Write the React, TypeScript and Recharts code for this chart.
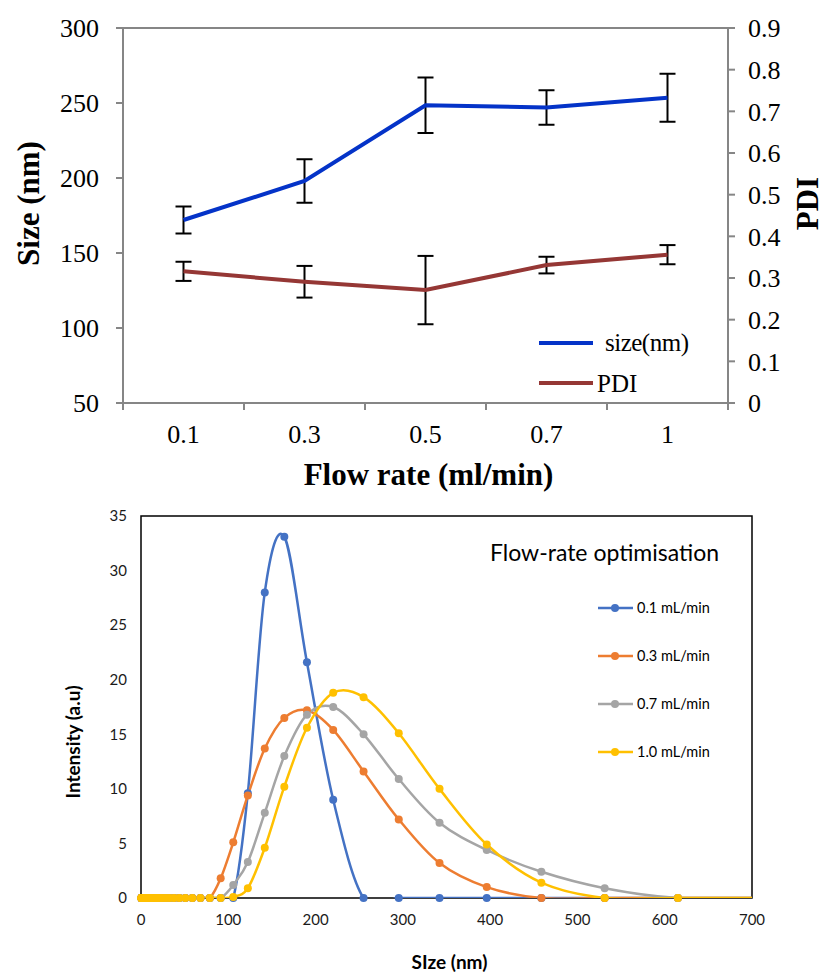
import React from 'react';
import { LineChart, Line, XAxis, YAxis, ErrorBar, Legend, ReferenceLine, ReferenceArea } from 'recharts';

// ---- top chart: size / PDI vs flow rate ----
const flowRates = ['0.1', '0.3', '0.5', '0.7', '1'];
const sizeNm = [172, 198, 248.5, 247, 253.5];
const sizeErr = [9, 14.5, 18.5, 11.5, 16];
const pdiValues = [0.316, 0.291, 0.271, 0.331, 0.356];
const pdiErr = [0.023, 0.038, 0.082, 0.02, 0.023];
const sizeTicks = [50, 100, 150, 200, 250, 300];
const pdiTicks = [0, 0.1, 0.2, 0.3, 0.4, 0.5, 0.6, 0.7, 0.8, 0.9];

// ---- bottom chart: DLS intensity distributions ----
const binSizes = [
  0.4, 0.4632, 0.5365, 0.6213, 0.7195, 0.8332, 0.9649, 1.117, 1.294, 1.499,
  1.736, 2.01, 2.328, 2.696, 3.122, 3.615, 4.187, 4.849, 5.615, 6.503,
  7.531, 8.721, 10.1, 11.7, 13.54, 15.69, 18.17, 21.04, 24.36, 28.21,
  32.67, 37.84, 43.82, 50.75, 58.77, 68.06, 78.82,
  91.28, 105.7, 122.4, 141.8, 164.2, 190.1, 220.2, 255, 295.3, 342, 396.1, 458.7, 531.2, 615.1, 712.4,
];
const int01 = [
  0, 0, 0, 0, 0, 0, 0, 0, 0, 0,
  0, 0, 0, 0, 0, 0, 0, 0, 0, 0,
  0, 0, 0, 0, 0, 0, 0, 0, 0, 0,
  0, 0, 0, 0, 0, 0, 0,
  0, 0, 9.6, 28.0, 33.1, 21.6, 9.0, 0, 0, 0, 0, 0, 0, 0, 0,
];
const int03 = [
  0, 0, 0, 0, 0, 0, 0, 0, 0, 0,
  0, 0, 0, 0, 0, 0, 0, 0, 0, 0,
  0, 0, 0, 0, 0, 0, 0, 0, 0, 0,
  0, 0, 0, 0, 0, 0, 0,
  1.8, 5.1, 9.4, 13.7, 16.5, 17.2, 15.4, 11.6, 7.2, 3.2, 1.0, 0, 0, 0, 0,
];
const int07 = [
  0, 0, 0, 0, 0, 0, 0, 0, 0, 0,
  0, 0, 0, 0, 0, 0, 0, 0, 0, 0,
  0, 0, 0, 0, 0, 0, 0, 0, 0, 0,
  0, 0, 0, 0, 0, 0, 0,
  0, 1.2, 3.3, 7.8, 13.0, 16.8, 17.5, 15.0, 10.9, 6.9, 4.4, 2.4, 0.9, 0, 0,
];
const int10 = [
  0, 0, 0, 0, 0, 0, 0, 0, 0, 0,
  0, 0, 0, 0, 0, 0, 0, 0, 0, 0,
  0, 0, 0, 0, 0, 0, 0, 0, 0, 0,
  0, 0, 0, 0, 0, 0, 0,
  0, 0.1, 0.9, 4.6, 10.2, 15.6, 18.8, 18.4, 15.1, 10.0, 4.9, 1.4, 0, 0, 0,
];
const sizeTicksX = [0, 100, 200, 300, 400, 500, 600, 700];
const intensityTicks = [0, 5, 10, 15, 20, 25, 30, 35];

const SERIES = [
  { key: 's01', name: '0.1 mL/min', color: '#4472C4', values: int01 },
  { key: 's03', name: '0.3 mL/min', color: '#ED7D31', values: int03 },
  { key: 's07', name: '0.7 mL/min', color: '#A5A5A5', values: int07 },
  { key: 's10', name: '1.0 mL/min', color: '#FFC000', values: int10 },
];

const SERIF = '"Liberation Serif", "Times New Roman", serif';
const SANS = 'Lato, "Open Sans", sans-serif';
const AXIS_GREY = '#868686';
const SIZE_BLUE = '#0433C8';
const PDI_RED = '#953735';

const topData = flowRates.map((f, i) => ({
  flow: f,
  size: sizeNm[i],
  sizeErr: sizeErr[i],
  pdi: pdiValues[i],
  pdiErr: pdiErr[i],
}));

const distData = binSizes.map((s, i) => {
  const row: Record<string, number> = { size: s };
  SERIES.forEach((ser) => {
    row[ser.key] = ser.values[i];
  });
  return row;
});

// Excel-like smoothed line (Catmull-Rom / cardinal with zero tension)
class SmoothCurve {
  _context: any;
  _line = NaN;
  _point = 0;
  _x0 = NaN; _x1 = NaN; _x2 = NaN;
  _y0 = NaN; _y1 = NaN; _y2 = NaN;
  constructor(context: any) {
    this._context = context;
  }
  areaStart() { this._line = 0; }
  areaEnd() { this._line = NaN; }
  lineStart() {
    this._x0 = this._x1 = this._x2 = this._y0 = this._y1 = this._y2 = NaN;
    this._point = 0;
  }
  lineEnd() {
    switch (this._point) {
      case 2: this._context.lineTo(this._x2, this._y2); break;
      case 3: this.seg(this._x1, this._y1); break;
    }
    if (this._line || (this._line !== 0 && this._point === 1)) this._context.closePath();
    this._line = 1 - this._line;
  }
  point(x: number, y: number) {
    x = +x; y = +y;
    switch (this._point) {
      case 0:
        this._point = 1;
        if (this._line) this._context.lineTo(x, y);
        else this._context.moveTo(x, y);
        break;
      case 1:
        this._point = 2;
        this._x1 = x; this._y1 = y;
        break;
      case 2:
        this._point = 3;
        this.seg(x, y);
        break;
      default:
        this.seg(x, y);
        break;
    }
    this._x0 = this._x1; this._x1 = this._x2; this._x2 = x;
    this._y0 = this._y1; this._y1 = this._y2; this._y2 = y;
  }
  seg(x: number, y: number) {
    const k = 1 / 6;
    this._context.bezierCurveTo(
      this._x1 + k * (this._x2 - this._x0),
      this._y1 + k * (this._y2 - this._y0),
      this._x2 + k * (this._x1 - x),
      this._y2 + k * (this._y1 - y),
      this._x2,
      this._y2,
    );
  }
}
const smoothCurve = (context: any) => new SmoothCurve(context);

// top chart layout
const TOP_W = 826;
const TOP_H = 500;
const TOP_LEFT = 123;
const TOP_RIGHT = 98;
const TOP_BOTTOM = 97;
const BAND = (TOP_W - TOP_LEFT - TOP_RIGHT) / flowRates.length;

function FlowTick(props: any) {
  const { x, payload, index } = props;
  const axisY = TOP_H - TOP_BOTTOM;
  return (
    <g>
      <line x1={x - BAND / 2} x2={x - BAND / 2} y1={axisY} y2={axisY + 7} stroke={AXIS_GREY} strokeWidth={2} />
      {index === flowRates.length - 1 && (
        <line x1={x + BAND / 2} x2={x + BAND / 2} y1={axisY} y2={axisY + 7} stroke={AXIS_GREY} strokeWidth={2} />
      )}
      <text x={x} y={axisY + 40} textAnchor="middle" fontSize={26} fontFamily={SERIF} fill="#000">
        {payload.value}
      </text>
    </g>
  );
}

function TopLegend() {
  return (
    <svg width={200} height={80} style={{ display: 'block' }}>
      <line x1={3} x2={57} y1={21} y2={21} stroke={SIZE_BLUE} strokeWidth={4} />
      <text x={69} y={29} fontSize={25} fontFamily={SERIF} fill="#000" letterSpacing={-0.5}>size(nm)</text>
      <line x1={3} x2={57} y1={61} y2={61} stroke={PDI_RED} strokeWidth={4} />
      <text x={61} y={70} fontSize={25} fontFamily={SERIF} fill="#000">PDI</text>
    </svg>
  );
}

function SizePdiChart() {
  const tickStyle = { fontSize: 26, fontFamily: SERIF, fill: '#000' };
  const titleStyle = { fontSize: 31, fontWeight: 'bold', fontFamily: SERIF, fill: '#000', textAnchor: 'middle' };
  return (
    <LineChart width={TOP_W} height={TOP_H} data={topData} margin={{ top: 28, right: 0, bottom: 0, left: 0 }}>
      <XAxis
        dataKey="flow"
        scale="band"
        height={TOP_BOTTOM}
        axisLine={{ stroke: AXIS_GREY, strokeWidth: 2 }}
        tickLine={false}
        tick={<FlowTick />}
        interval={0}
        label={{ value: 'Flow rate (ml/min)', position: 'insideBottom', offset: 15, dx: 3, style: titleStyle }}
      />
      <YAxis
        yAxisId="size"
        domain={[50, 300]}
        ticks={sizeTicks}
        width={TOP_LEFT}
        tickSize={7}
        tickMargin={17}
        axisLine={{ stroke: AXIS_GREY, strokeWidth: 2 }}
        tickLine={{ stroke: AXIS_GREY, strokeWidth: 2 }}
        tick={tickStyle}
        label={{ value: 'Size (nm)', angle: -90, position: 'insideLeft', offset: 28, dy: -12, style: titleStyle }}
      />
      <YAxis
        yAxisId="pdi"
        orientation="right"
        domain={[0, 0.9]}
        ticks={pdiTicks}
        width={TOP_RIGHT}
        tickSize={7}
        tickMargin={13}
        axisLine={{ stroke: AXIS_GREY, strokeWidth: 2 }}
        tickLine={{ stroke: AXIS_GREY, strokeWidth: 2 }}
        tick={tickStyle}
        label={{ value: 'PDI', angle: -90, position: 'insideRight', offset: 19, dy: -12, style: titleStyle }}
      />
      <ReferenceLine yAxisId="size" y={300} stroke={AXIS_GREY} strokeWidth={2} />
      <Line
        yAxisId="size"
        dataKey="size"
        name="size(nm)"
        stroke={SIZE_BLUE}
        strokeWidth={4}
        dot={false}
        activeDot={false}
        isAnimationActive={false}
      >
        <ErrorBar dataKey="sizeErr" width={8} strokeWidth={2} stroke="#000" direction="y" />
      </Line>
      <Line
        yAxisId="pdi"
        dataKey="pdi"
        name="PDI"
        stroke={PDI_RED}
        strokeWidth={4}
        dot={false}
        activeDot={false}
        isAnimationActive={false}
      >
        <ErrorBar dataKey="pdiErr" width={8} strokeWidth={2} stroke="#000" direction="y" />
      </Line>
      <Legend
        layout="vertical"
        align="center"
        verticalAlign="middle"
        wrapperStyle={{ left: 536, top: 322, width: 200 }}
        content={() => <TopLegend />}
      />
    </LineChart>
  );
}

// bottom chart layout
const BOT_W = 826;
const BOT_H = 473;

function DistLegend() {
  return (
    <svg width={300} height={240} style={{ display: 'block' }}>
      <text x={0} y={25} fontSize={23} fontFamily={SANS} fill="#000">Flow-rate optimisation</text>
      {SERIES.map((s, i) => {
        const cy = 72 + i * 48;
        return (
          <g key={s.key}>
            <line x1={108} x2={143} y1={cy} y2={cy} stroke={s.color} strokeWidth={2.5} />
            <circle cx={125} cy={cy} r={4} fill={s.color} />
            <text x={147} y={cy + 5} fontSize={14.5} fontFamily={SANS} fill="#000">{s.name}</text>
          </g>
        );
      })}
    </svg>
  );
}

function DistributionChart() {
  const tickStyle = { fontSize: 15, fontFamily: SANS, fill: '#1a1a1a' };
  const titleStyle = { fontSize: 19, fontWeight: 'bold', fontFamily: SANS, fill: '#000', textAnchor: 'middle' };
  return (
    <LineChart width={BOT_W} height={BOT_H} data={distData} margin={{ top: 16, right: 74, bottom: 0, left: 0 }}>
      <XAxis
        type="number"
        dataKey="size"
        domain={[0, 700]}
        ticks={sizeTicksX}
        allowDataOverflow
        height={75}
        tickSize={0}
        tickMargin={16}
        axisLine={false}
        tickLine={false}
        tick={tickStyle}
        label={{ value: 'SIze (nm)', position: 'insideBottom', offset: 4, dx: 3, style: titleStyle }}
      />
      <YAxis
        type="number"
        domain={[0, 35]}
        ticks={intensityTicks}
        allowDataOverflow
        width={141}
        tickSize={0}
        tickMargin={14}
        axisLine={false}
        tickLine={false}
        tick={tickStyle}
        label={{ value: 'Intensity (a.u)', angle: -90, position: 'insideLeft', offset: 73, dy: 35, style: titleStyle }}
      />
      <ReferenceArea x1={0} x2={700} y1={0} y2={35} fill="none" stroke="#000" strokeWidth={1.5} />
      {SERIES.map((s) => (
        <Line
          key={s.key}
          dataKey={s.key}
          name={s.name}
          type={smoothCurve as any}
          stroke={s.color}
          strokeWidth={2.5}
          dot={{ r: 4, fill: s.color, stroke: s.color, strokeWidth: 0, clipDot: false }}
          activeDot={false}
          isAnimationActive={false}
        />
      ))}
      <Legend
        layout="vertical"
        align="center"
        verticalAlign="middle"
        wrapperStyle={{ left: 490, top: 36, width: 300 }}
        content={() => <DistLegend />}
      />
    </LineChart>
  );
}

export default function App() {
  return (
    <div style={{ position: 'absolute', left: 0, top: 0, width: 826, height: 973, background: '#fff' }}>
      <div style={{ position: 'absolute', left: 0, top: 0 }}>
        <SizePdiChart />
      </div>
      <div style={{ position: 'absolute', left: 0, top: 500 }}>
        <DistributionChart />
      </div>
    </div>
  );
}
